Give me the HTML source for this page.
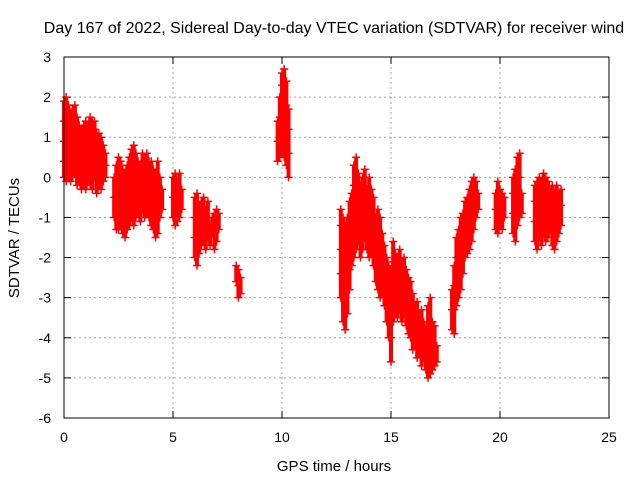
<!DOCTYPE html>
<html><head><meta charset="utf-8">
<style>
html,body{margin:0;padding:0;background:#fff;}
svg{display:block;font-family:"Liberation Sans",sans-serif;}
</style></head>
<body>
<svg id="chart" width="640" height="480" viewBox="0 0 640 480" xmlns="http://www.w3.org/2000/svg">
<rect width="640" height="480" fill="#fff"/>
<text x="334" y="33" font-size="16" text-anchor="middle" fill="#000">Day 167 of 2022, Sidereal Day-to-day VTEC variation (SDTVAR) for receiver wind</text>
<text x="334" y="471" font-size="15" text-anchor="middle" fill="#000">GPS time / hours</text>
<text x="19" y="238" font-size="15" text-anchor="middle" fill="#000" transform="rotate(-90 19 238)">SDTVAR / TECUs</text>
<g id="grid"></g>
<g id="axes"></g>
<g id="series"></g>
<rect x="64" y="57" width="545" height="361" fill="none" stroke="#000" stroke-width="1"/>
</svg>
<script>
const xTicks=[0,5,10,15,20,25];
const yTicks=[3,2,1,0,-1,-2,-3,-4,-5,-6];
const times=[0.0,0.1,0.2,0.3,0.4,0.5,0.6,0.7,0.8,0.9,1.0,1.1,1.2,1.3,1.4,1.5,1.6,1.7,1.8,1.9,
2.3,2.4,2.5,2.6,2.7,2.8,2.9,3.0,3.1,3.2,3.3,3.4,3.5,3.6,3.7,3.8,3.9,4.0,4.1,4.2,4.3,4.4,4.5,
5.0,5.1,5.2,5.3,5.4,
6.0,6.1,6.2,6.3,6.4,6.5,6.6,6.7,6.8,6.9,7.0,7.1,
7.9,8.0,8.1,
9.8,9.9,10.0,10.1,10.2,10.3,
12.7,12.8,12.9,13.0,13.1,13.2,13.3,13.4,13.5,13.6,13.7,13.8,13.9,14.0,14.1,14.2,14.3,14.4,14.5,14.6,14.7,14.8,14.9,15.0,15.1,15.2,15.3,15.4,15.5,15.6,15.7,15.8,15.9,16.0,16.1,16.2,16.3,16.4,16.5,16.6,16.7,16.8,16.9,17.0,17.1,
17.8,17.9,18.0,18.1,18.2,18.3,18.4,18.5,18.6,18.7,18.8,18.9,19.0,
19.8,19.9,20.0,20.1,20.2,
20.6,20.7,20.8,20.9,21.0,
21.6,21.7,21.8,21.9,22.0,22.1,22.2,22.3,22.4,22.5,22.6,22.7,22.8];
const values=[[0.0,0.4,0.9,1.4,1.9],[-0.1,0.3,0.8,1.3,2.0],[0.0,0.5,1.0,1.5,1.8],[-0.1,0.3,0.7,1.2,1.6],[0.0,0.4,0.9,1.3,1.7],[0.1,0.5,1.0,1.4,1.8],[-0.2,0.2,0.6,1.0,1.5],[-0.1,0.3,0.8,1.2,1.3],[-0.3,0.1,0.5,0.9,1.2],[-0.2,0.2,0.6,1.0,1.3],[-0.3,0.1,0.5,0.9,1.4],[-0.1,0.3,0.7,1.1,1.3],[-0.2,0.2,0.6,1.0,1.5],[-0.3,0.1,0.5,0.9,1.4],[0.0,0.4,0.8,1.2,1.4],[-0.4,0.0,0.4,0.8,1.1],[-0.2,0.2,0.6,0.9,1.1],[-0.3,0.1,0.5,0.8,1.0],[-0.1,0.2,0.5,0.8],[0.0,0.3,0.6],
[-1.0,-0.5,0.0],[-1.3,-0.8,-0.2,0.3],[-1.3,-0.7,-0.1,0.5],[-1.2,-0.6,0.0,0.4],[-1.4,-0.9,-0.3,0.2],[-1.5,-1.0,-0.4,0.1],[-1.3,-0.7,-0.2,0.3],[-1.2,-0.6,0.0,0.5],[-1.0,-0.5,0.1,0.7],[-1.2,-0.6,0.0,0.8],[-1.0,-0.4,0.2,0.6],[-0.9,-0.3,0.2,0.4],[-1.1,-0.5,0.0,0.3],[-0.8,-0.3,0.2,0.6],[-1.0,-0.4,0.1,0.5],[-0.9,-0.3,0.3,0.6],[-1.0,-0.4,0.1,0.4],[-1.2,-0.6,-0.1,0.4],[-1.3,-0.7,-0.2,0.2],[-1.5,-0.9,-0.3,0.1],[-1.4,-0.8,-0.2,0.4],[-1.0,-0.5,0.0],[-0.8,-0.3],
[-1.0,-0.5,0.0],[-1.2,-0.7,-0.2,0.1],[-1.1,-0.6,-0.1],[-1.0,-0.4,0.1],[-0.8,-0.3],
[-2.0,-1.5,-1.0,-0.5],[-2.2,-1.6,-1.0,-0.4],[-1.9,-1.3,-0.7],[-1.7,-1.2,-0.6],[-1.6,-1.1,-0.5],[-1.8,-1.3,-0.8],[-1.5,-1.0,-0.6],[-1.7,-1.2],[-1.4,-1.0],[-1.8,-1.3,-0.9],[-1.6,-1.2,-0.8],[-1.3,-0.9],
[-2.6,-2.2],[-3.0,-2.7,-2.3],[-2.9,-2.5],
[0.4,0.9,1.4],[0.5,1.0,1.5,2.0],[0.6,1.1,1.7,2.3,2.6],[0.5,1.0,1.6,2.2,2.7],[0.3,0.8,1.3,1.8,2.4],[0.0,0.6,1.2,1.7],
[-3.0,-2.4,-1.8,-1.2,-0.8],[-3.6,-3.0,-2.3,-1.6,-1.0],[-3.8,-3.2,-2.5,-1.8,-1.2],[-3.4,-2.8,-2.2,-1.6,-1.0],[-2.8,-2.3,-1.7,-1.1,-0.6],[-2.2,-1.6,-1.0,-0.4],[-2.0,-1.4,-0.8,-0.2,0.3],[-1.8,-1.2,-0.6,0.0,0.5],[-1.6,-1.0,-0.4,0.1],[-2.0,-1.4,-0.8,-0.2],[-1.8,-1.3,-0.7,0.0],[-1.5,-1.0,-0.4,0.2],[-1.8,-1.3,-0.8,-0.3],[-2.0,-1.5,-1.0,-0.4,0.0],[-1.9,-1.4,-0.9,-0.3],[-2.2,-1.6,-1.0,-0.5],[-2.6,-2.0,-1.5,-1.0],[-2.8,-2.3,-1.8,-1.3,-0.8],[-3.0,-2.5,-2.0,-1.5,-1.0],[-2.9,-2.4,-1.9,-1.4],[-3.2,-2.7,-2.2,-1.7],[-3.6,-3.0,-2.5,-2.0],[-4.0,-3.4,-2.8,-2.2],[-4.6,-4.0,-3.4,-2.8,-2.3],[-3.6,-3.1,-2.6,-2.1,-1.6],[-3.4,-2.9,-2.4,-1.9],[-3.5,-3.0,-2.5,-2.0],[-3.3,-2.8,-2.3,-1.8],[-3.6,-3.1,-2.6,-2.1],[-3.4,-2.9,-2.5,-2.0],[-3.7,-3.2,-2.7,-2.3],[-3.9,-3.4,-2.9,-2.5],[-4.0,-3.5,-3.0,-2.6],[-4.3,-3.8,-3.3,-2.9],[-4.2,-3.7,-3.2],[-4.5,-4.0,-3.5,-3.1],[-4.4,-3.9,-3.4],[-4.7,-4.2,-3.7,-3.3],[-4.5,-4.0,-3.6],[-4.8,-4.3,-3.8],[-5.0,-4.5,-3.9,-3.2],[-4.9,-4.4,-3.8,-3.0],[-4.8,-4.2,-3.6],[-4.7,-4.2,-3.7],[-4.6,-4.2],
[-3.8,-3.3,-2.8],[-3.9,-3.3,-2.7,-2.2],[-3.2,-2.6,-2.0,-1.5],[-3.0,-2.5,-1.9,-1.3],[-2.8,-2.2,-1.6,-1.0],[-2.4,-1.9,-1.4,-0.9],[-2.0,-1.5,-1.0,-0.6],[-1.9,-1.4,-0.9,-0.5],[-1.8,-1.3,-0.8,-0.3],[-1.6,-1.1,-0.6,-0.1],[-1.3,-0.8,-0.3,0.0],[-1.0,-0.5,-0.1],[-0.8,-0.4],
[-1.3,-0.8,-0.4],[-1.4,-0.9,-0.5,-0.1],[-1.2,-0.7,-0.3],[-1.3,-0.8,-0.4],[-1.0,-0.5],
[-1.4,-0.9,-0.4,0.0],[-1.6,-1.0,-0.4,0.2],[-1.2,-0.6,0.0,0.5],[-1.0,-0.5,0.0,0.6],[-0.9,-0.4],
[-1.6,-1.1,-0.6,-0.2],[-1.8,-1.2,-0.6,-0.1],[-1.5,-1.0,-0.5,0.0],[-1.7,-1.1,-0.5,-0.1],[-1.4,-0.9,-0.4,0.1],[-1.6,-1.0,-0.5,0.0],[-1.5,-1.0,-0.5,-0.1],[-1.3,-0.8,-0.3],[-1.7,-1.2,-0.7,-0.2],[-1.8,-1.3,-0.8,-0.4],[-1.6,-1.1,-0.6,-0.2],[-1.4,-0.9,-0.4],[-1.2,-0.7,-0.3]];

const L=64,R=609,T=57,B=418,X0=0,X1=25,Y0=-6,Y1=3;
function sx(v){return L+(v-X0)/(X1-X0)*(R-L);}
function sy(v){return B-(v-Y0)/(Y1-Y0)*(B-T);}
const NS='http://www.w3.org/2000/svg';
function mk(tag,attrs,parent){const e=document.createElementNS(NS,tag);for(const k in attrs)e.setAttribute(k,attrs[k]);parent.appendChild(e);return e;}
const grid=document.getElementById('grid'),axes=document.getElementById('axes'),ser=document.getElementById('series');
xTicks.forEach(t=>{
  const x=sx(t);
  if(t>X0&&t<X1){const g=mk('line',{x1:x,y1:T,x2:x,y2:B,stroke:'#a0a0a0','stroke-dasharray':'2,3','stroke-width':1},grid);
  
  }
  const a=mk('line',{x1:x,y1:B,x2:x,y2:B-7,stroke:'#000'},axes);
  
  
  const b=mk('line',{x1:x,y1:T,x2:x,y2:T+7,stroke:'#000'},axes);
  
  
  const l=mk('text',{x:x,y:B+24,'font-size':14,'text-anchor':'middle',fill:'#000'},axes);
  l.textContent=t;
  
  
});
yTicks.forEach(t=>{
  const y=sy(t);
  if(t>Y0&&t<Y1){const g=mk('line',{x1:L,y1:y,x2:R,y2:y,stroke:'#a0a0a0','stroke-dasharray':'2,3','stroke-width':1},grid);
  
  }
  const a=mk('line',{x1:L,y1:y,x2:L+7,y2:y,stroke:'#000'},axes);
  
  
  const b=mk('line',{x1:R,y1:y,x2:R-7,y2:y,stroke:'#000'},axes);
  
  
  const l=mk('text',{x:L-13,y:y+5,'font-size':14,'text-anchor':'end',fill:'#000'},axes);
  l.textContent=t;
  
  
});
times.forEach((t,i)=>{
  const vs=values[i];const x=sx(t);
  const mn=Math.min(...vs),mx=Math.max(...vs);
  const band=mk('line',{x1:x,y1:sy(mx),x2:x,y2:sy(mn),stroke:'#ff0000','stroke-width':4},ser);
  
  
  vs.forEach(v=>{
    const y=sy(v);
    const p=mk('path',{d:`M${x-4},${y}H${x+4}M${x},${y-4}V${y+4}`,stroke:'#ff0000','stroke-width':1.5,fill:'none'},ser);
    
    
  });
});
</script>
</body></html>
